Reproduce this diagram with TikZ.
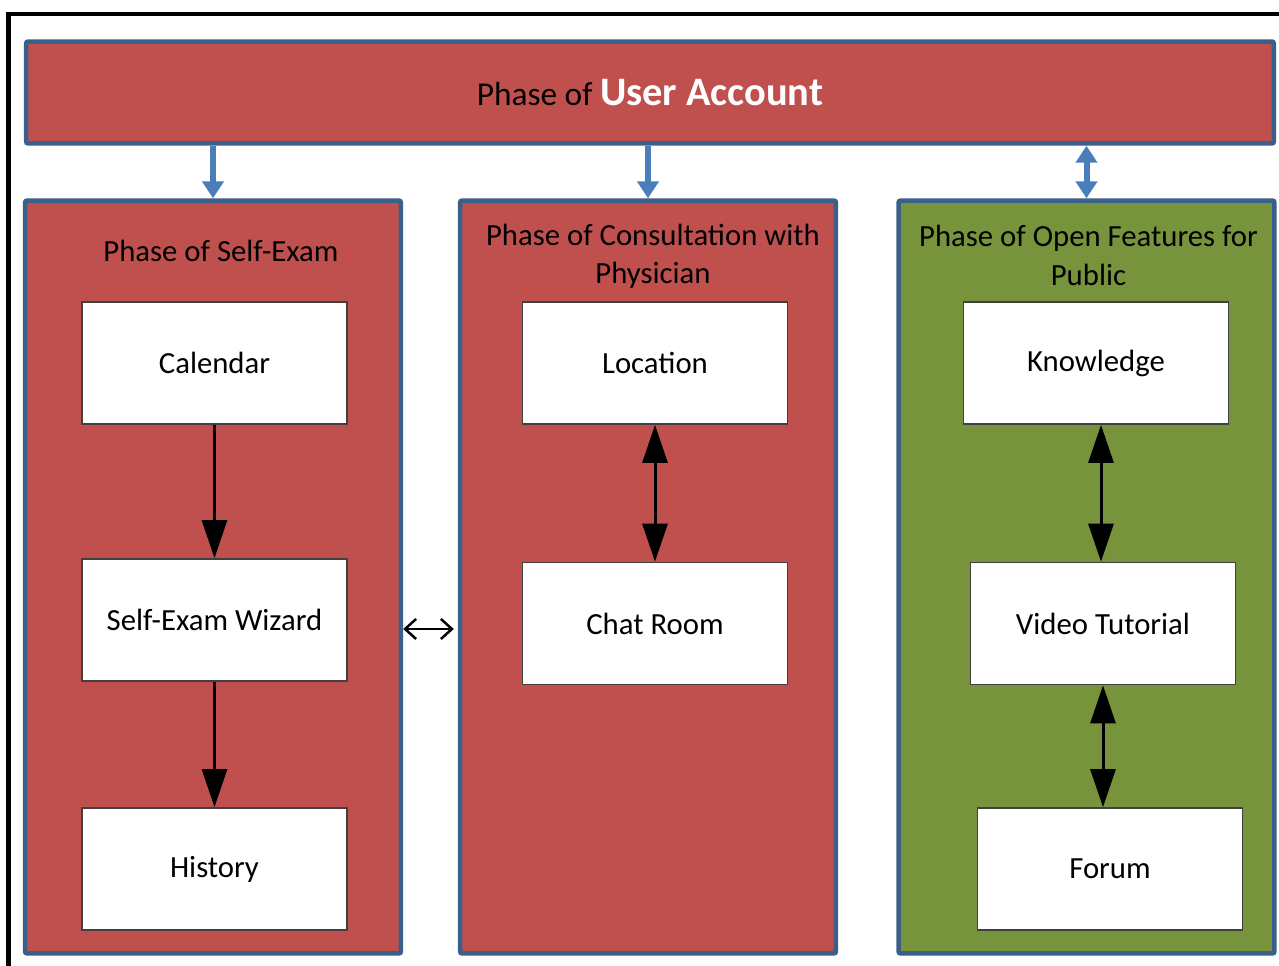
\documentclass[tikz,border=0pt]{standalone}
\usepackage{fontspec}
\setmainfont{Carlito}
\usetikzlibrary{arrows.meta,calc}
\definecolor{boxred}{HTML}{C0504D}
\definecolor{boxgreen}{HTML}{77933C}
\definecolor{boxblue}{HTML}{3A5F8B}
\definecolor{arrblue}{HTML}{4A7EBB}
\begin{document}
\begin{tikzpicture}[x=0.02cm,y=-0.02cm,
  phase/.style={draw=boxblue, line width=0.09cm, fill=boxred, rounded corners=0.04cm,
    minimum width=7.52cm, minimum height=15.06cm, inner sep=0pt},
  item/.style={draw=black!75, line width=0.035cm, fill=white, minimum width=5.3cm,
    minimum height=2.44cm, inner sep=0pt, font=\fontsize{17.5}{21}\selectfont},
  ttl/.style={align=center, font=\fontsize{17.5}{21.8}\selectfont, inner sep=0pt},
  blk/.style={line width=0.06cm, -{Triangle[width=0.5cm,length=0.76cm]}},
  blkd/.style={line width=0.06cm, {Triangle[width=0.5cm,length=0.76cm]}-{Triangle[width=0.5cm,length=0.76cm]}},
  blu/.style={draw=arrblue, line width=0.12cm, -{Triangle[width=0.42cm,length=0.34cm]}},
  blud/.style={draw=arrblue, line width=0.12cm, {Triangle[width=0.42cm,length=0.34cm]}-{Triangle[width=0.42cm,length=0.34cm]}},
  opn/.style={line width=0.05cm, {Straight Barb[width=0.4cm,length=0.22cm]}-{Straight Barb[width=0.4cm,length=0.22cm]}}
]
\useasboundingbox (0,0) rectangle (1279,966);
\clip (0,0) rectangle (1279,966);
% outer frame
\draw[line width=0.09cm] (8.5,1000) -- (8.5,14) -- (1300,14);

% top box
\node[phase, minimum width=24.96cm, minimum height=2.04cm] (Top) at (650,92.5)
  {{\fontsize{19}{23}\selectfont Phase of }{\fontsize{23}{28}\selectfont\bfseries\color{white}User Account}};

% columns
\node[phase] (Left) at (213,577) {};
\node[phase] (Mid) at (648,577) {};
\node[phase, fill=boxgreen] (Right) at (1086.5,577) {};

\node[ttl] (LeftT) at ($(Left.north)+(8,53)$) {Phase of Self-Exam};
\node[ttl] (MidT) at ($(Mid.north)+(5,58)$) {Phase of Consultation with\\Physician};
\node[ttl] (RightT) at ($(Right.north)+(2,57)$) {Phase of Open Features for\\Public};

% items
\node[item] (Cal) at (214.5,363) {Calendar};
\node[item] (Wiz) at (214.5,620) {Self-Exam Wizard};
\node[item] (Hist) at (214.5,869) {History};
\node[item] (Loc) at (655,363) {Location};
\node[item] (Chat) at (655,623.5) {Chat Room};
\node[item] (Know) at (1096,363) {Knowledge};
\node[item] (Vid) at (1103,623.5) {Video Tutorial};
\node[item] (Forum) at (1110,869) {Forum};

% blue arrows
\draw[blu] (Top.south -| Left.north) -- (Left.north);
\draw[blu] (Top.south -| Mid.north) -- (Mid.north);
\draw[blud] (Top.south -| Right.north) -- (Right.north);

% black arrows
\coordinate (kv) at (1101,0);
\draw[blk] (Cal.south) -- (Wiz.north);
\draw[blk] (Wiz.south) -- (Hist.north);
\draw[blkd] (Loc.south) -- (Chat.north);
\draw[blkd] (Know.south -| kv) -- (Vid.north -| kv);
\draw[blkd] (Vid.south) -- (Vid.south |- Forum.north);

% open arrow between columns
\draw[opn] ([yshift=-1.04cm]Left.east) -- ([yshift=-1.04cm, xshift=-0.08cm]Mid.west);
\end{tikzpicture}
\end{document}
